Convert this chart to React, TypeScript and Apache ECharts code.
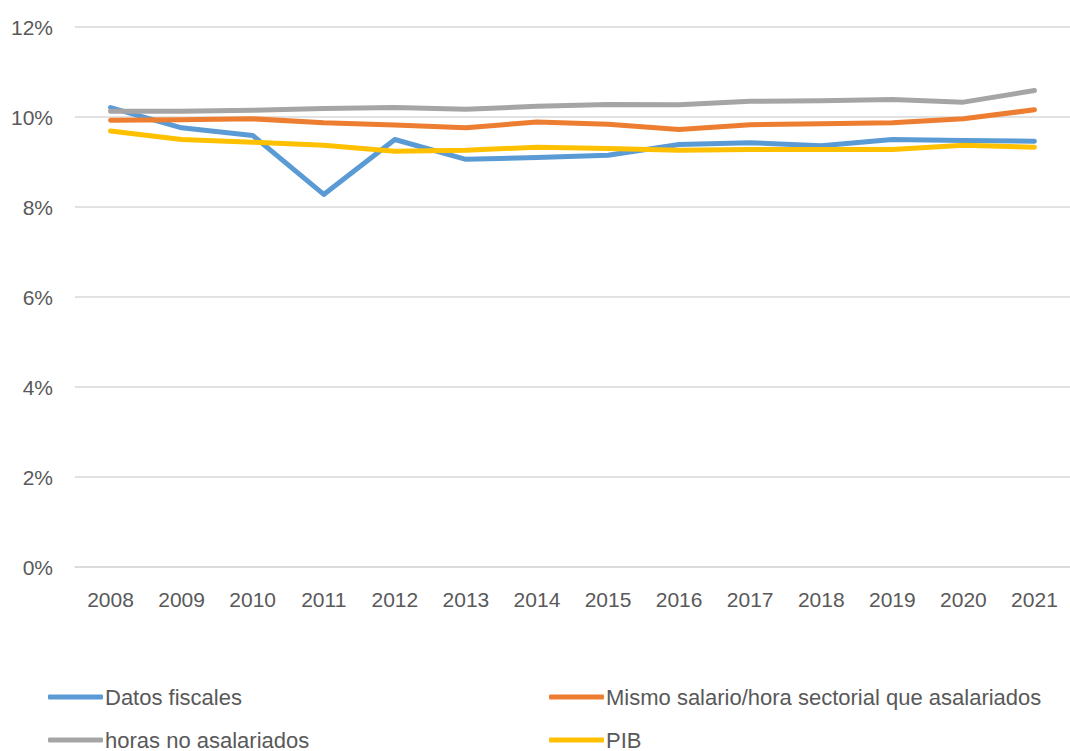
import React, { useEffect, useRef } from "react";
import * as echarts from "echarts";

const years = ["2008", "2009", "2010", "2011", "2012", "2013", "2014", "2015", "2016", "2017", "2018", "2019", "2020", "2021"];
const datosFiscales = [10.21, 9.76, 9.59, 8.28, 9.5, 9.06, 9.1, 9.15, 9.39, 9.43, 9.36, 9.5, 9.48, 9.46];
const mismoSalario = [9.93, 9.94, 9.96, 9.87, 9.82, 9.76, 9.89, 9.84, 9.72, 9.83, 9.85, 9.87, 9.96, 10.16];
const horasNoAsalariados = [10.13, 10.13, 10.15, 10.19, 10.21, 10.17, 10.24, 10.28, 10.27, 10.35, 10.36, 10.39, 10.33, 10.59];
const pib = [9.69, 9.5, 9.44, 9.37, 9.24, 9.26, 9.33, 9.3, 9.26, 9.28, 9.28, 9.28, 9.37, 9.33];
const yTicks = [0, 2, 4, 6, 8, 10, 12];

const seriesNames = ["Datos fiscales", "Mismo salario/hora sectorial que asalariados", "horas no asalariados", "PIB"];
const seriesData = [datosFiscales, mismoSalario, horasNoAsalariados, pib];
const colors = ["#5B9BD5", "#ED7D31", "#A5A5A5", "#FFC000"];

const FONT = "'Liberation Sans', Arial, sans-serif";
const TEXT_COLOR = "#595959";

export default function App() {
  const ref = useRef<HTMLDivElement>(null);
  useEffect(() => {
    document.body.style.margin = "0";
    if (!ref.current) return;
    const chart = echarts.init(ref.current, undefined, { renderer: "svg" });
    const legendPos = [
      { left: 48, top: 686 },
      { left: 549, top: 686 },
      { left: 48, top: 729 },
      { left: 549, top: 729 },
    ];
    chart.setOption({
      animation: false,
      backgroundColor: "#ffffff",
      textStyle: { fontFamily: FONT },
      grid: { left: 75, top: 27, width: 1005, height: 540, containLabel: false },
      legend: seriesNames.map((n, i) => ({
        data: [n],
        left: legendPos[i].left,
        top: legendPos[i].top,
        icon: "roundRect",
        itemWidth: 55,
        itemHeight: 5,
        itemGap: 0,
        padding: 0,
        selectedMode: false,
        textStyle: { fontFamily: FONT, fontSize: 22, color: TEXT_COLOR, padding: [0, 0, 0, -3] },
      })),
      xAxis: {
        type: "category",
        data: years,
        boundaryGap: true,
        axisLine: { show: true, lineStyle: { color: "#D9D9D9", width: 1.5 } },
        axisTick: { show: false },
        axisLabel: { fontFamily: FONT, fontSize: 21, color: TEXT_COLOR, margin: 22, interval: 0 },
      },
      yAxis: {
        type: "value",
        min: yTicks[0],
        max: yTicks[yTicks.length - 1],
        interval: 2,
        axisLine: { show: false },
        axisTick: { show: false },
        splitLine: { show: true, lineStyle: { color: "#D9D9D9", width: 1.5 } },
        axisLabel: { fontFamily: FONT, fontSize: 21, color: TEXT_COLOR, margin: 22, formatter: (v: number) => `${v}%` },
      },
      series: seriesNames.map((n, i) => ({
        name: n,
        type: "line",
        data: seriesData[i],
        symbol: "none",
        smooth: false,
        color: colors[i],
        lineStyle: { color: colors[i], width: 5, cap: "round", join: "round" },
        itemStyle: { color: colors[i] },
        z: 2 + i,
      })),
    });
    return () => chart.dispose();
  }, []);
  return <div ref={ref} style={{ width: 1070, height: 751 }} />;
}
